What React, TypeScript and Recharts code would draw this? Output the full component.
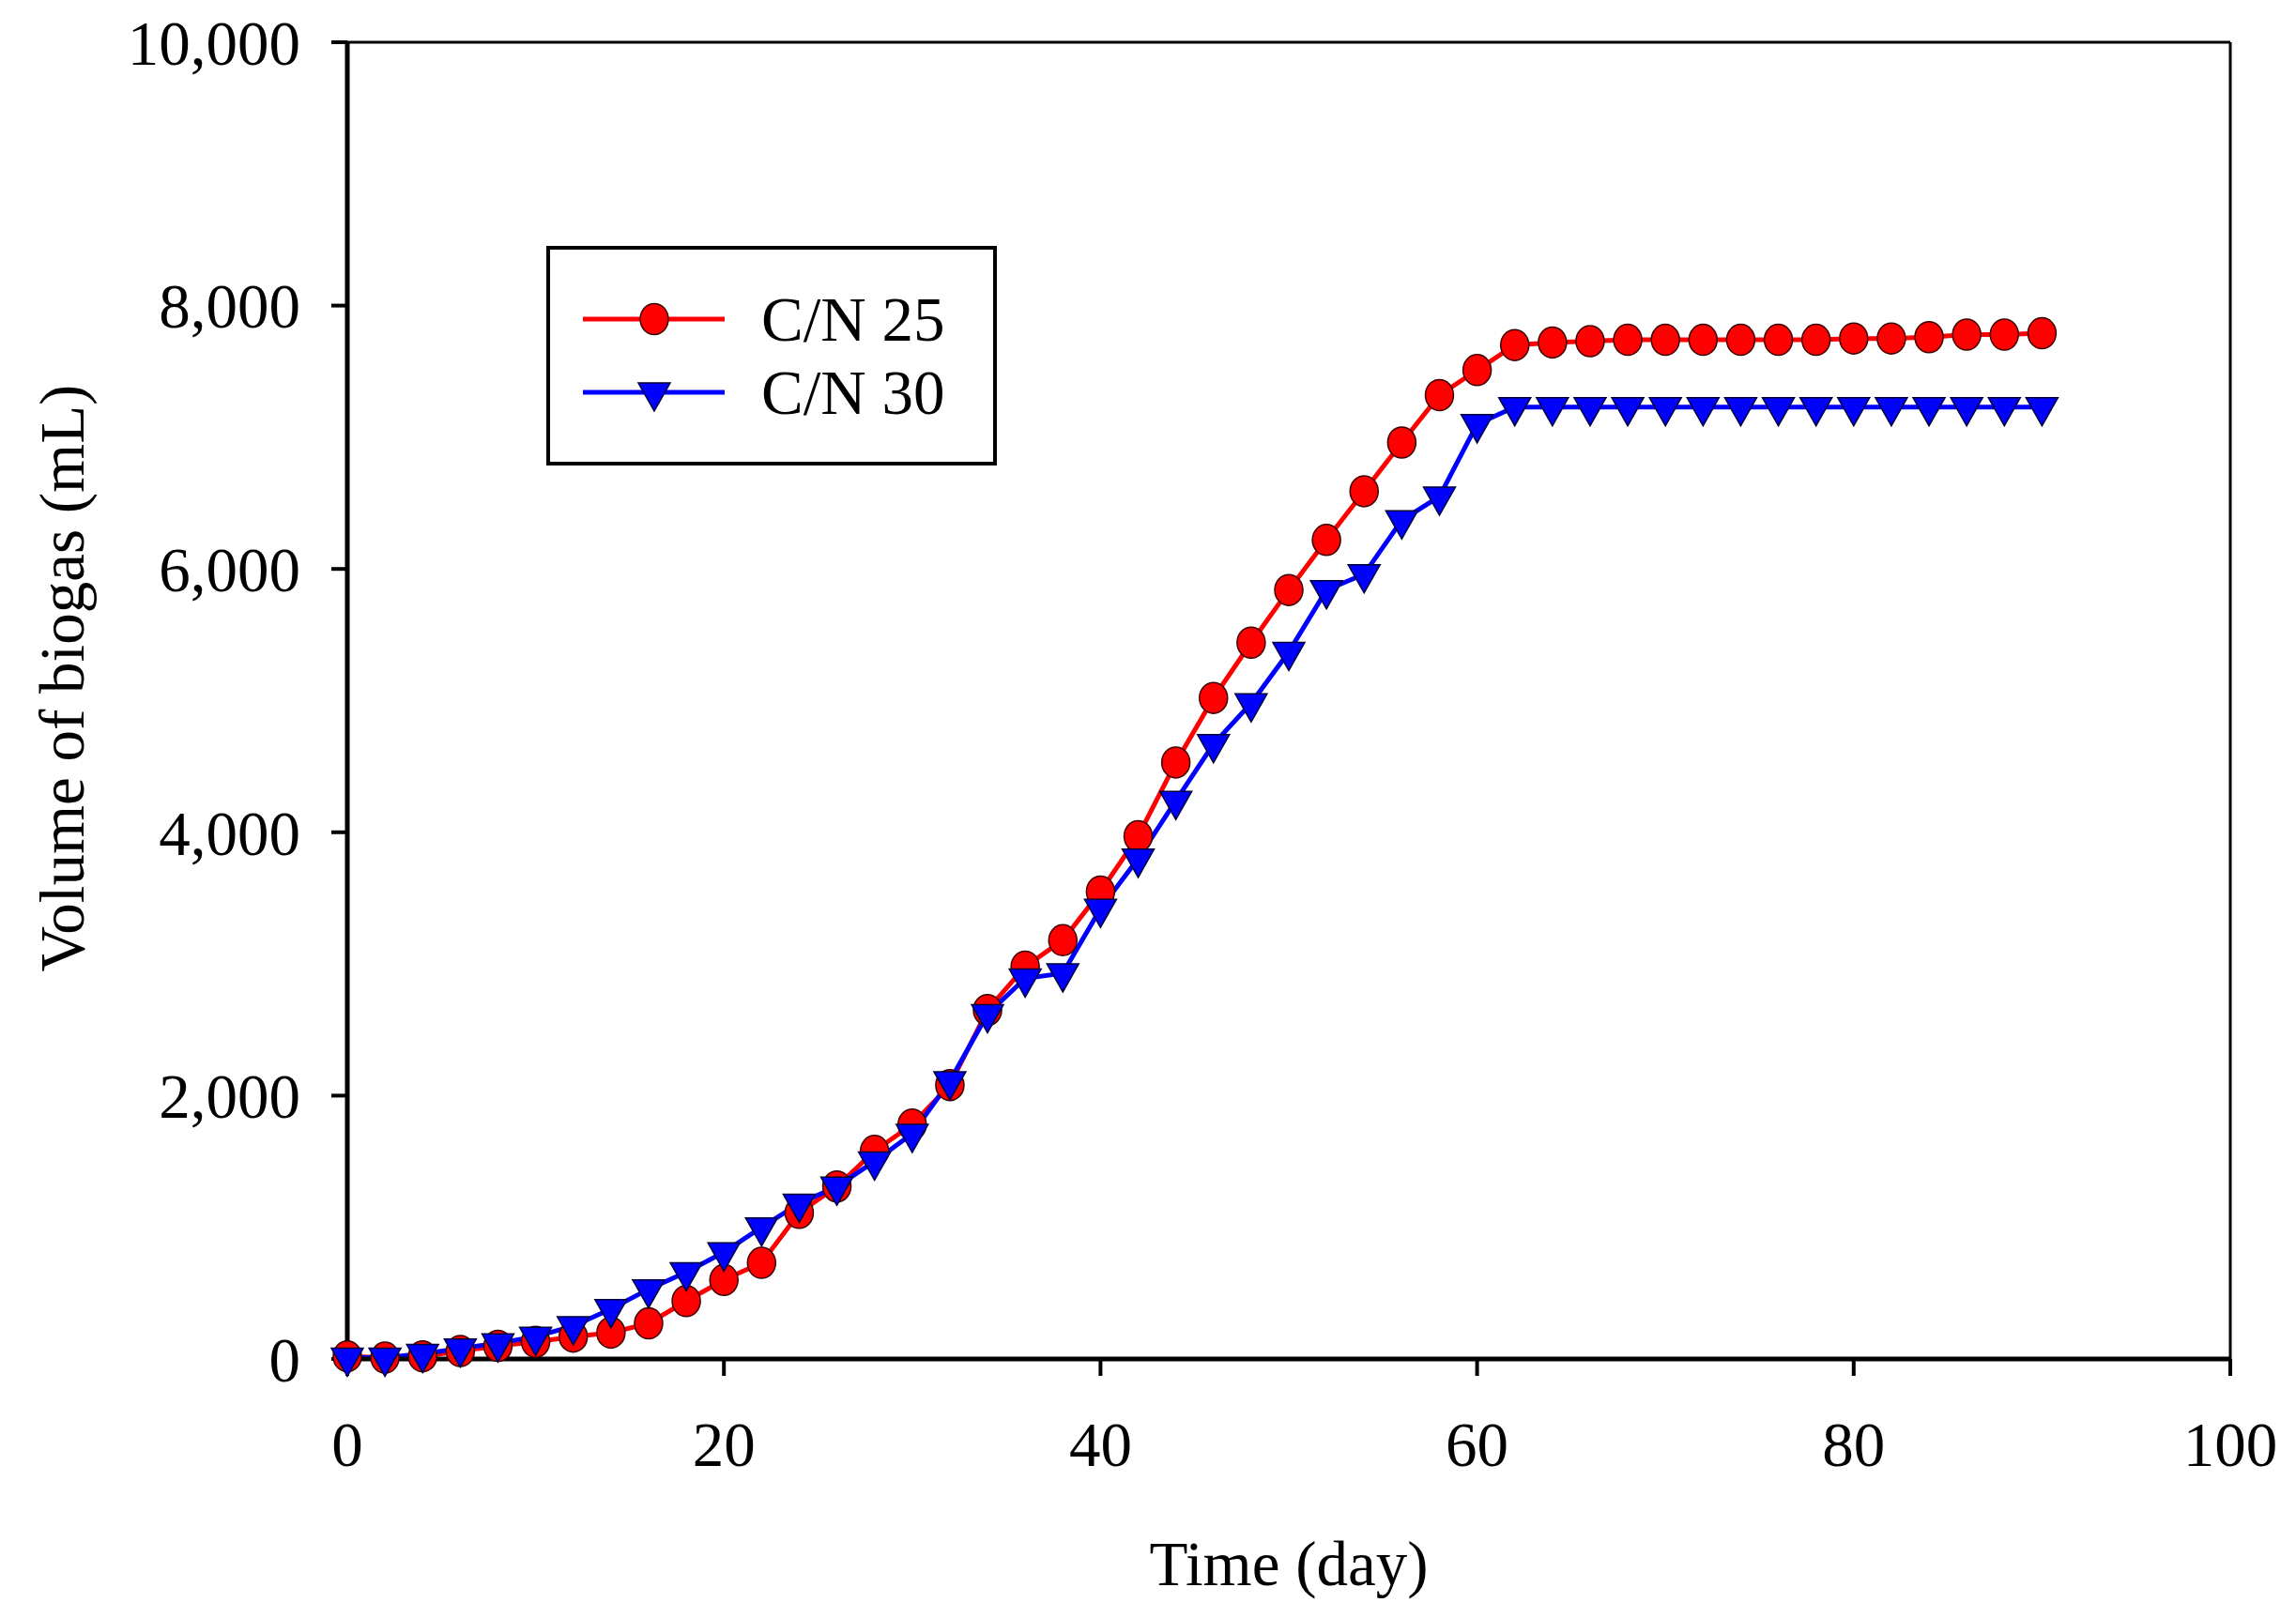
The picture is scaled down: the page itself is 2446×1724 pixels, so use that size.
import React from 'react';
import { LineChart, Line, XAxis, YAxis, ReferenceLine, Legend } from 'recharts';

const days = [0,2,4,6,8,10,12,14,16,18,20,22,24,26,28,30,32,34,36,38,40,42,44,46,48,50,52,54,56,58,60,62,64,66,68,70,72,74,76,78,80,82,84,86,88,90];
const cn25 = [20,10,20,60,100,130,170,200,270,440,600,730,1110,1310,1580,1780,2080,2650,2980,3180,3550,3970,4530,5020,5440,5840,6220,6590,6960,7320,7510,7700,7720,7730,7740,7740,7740,7740,7740,7740,7750,7750,7760,7780,7780,7790];
const cn30 = [10,10,40,80,120,170,250,380,530,660,810,1000,1180,1310,1500,1710,2110,2620,2890,2930,3420,3800,4240,4670,4980,5370,5840,5960,6370,6550,7100,7230,7230,7230,7230,7230,7230,7230,7230,7230,7230,7230,7230,7230,7230,7230];
const xTicks = [0,20,40,60,80,100];
const yTicks = [0,2000,4000,6000,8000,10000];
const seriesNames = ['C/N 25', 'C/N 30'];

const data = days.map((d, i) => ({ day: d, cn25: cn25[i], cn30: cn30[i] }));

const FONT = '"Liberation Serif", "Times New Roman", serif';
const FS = 67;

const CircleDot = (props: any) => {
  const { cx, cy } = props;
  if (cx == null || cy == null) return null;
  return <ellipse cx={cx} cy={cy} rx={15} ry={16.5} fill="#ff0000" stroke="#3a0000" strokeWidth={1.5} />;
};

const TriDot = (props: any) => {
  const { cx, cy } = props;
  if (cx == null || cy == null) return null;
  const pts = `${cx - 17},${cy - 10} ${cx + 17},${cy - 10} ${cx},${cy + 20}`;
  return <polygon points={pts} fill="#0000ff" stroke="#00003a" strokeWidth={1.5} />;
};

const LegendBox = () => (
  <svg width={480} height={234} style={{ display: 'block', overflow: 'visible' }}>
    <rect x={2} y={2} width={476} height={230} fill="#fff" stroke="#000" strokeWidth={4} />
    <line x1={39} y1={78} x2={190} y2={78} stroke="#ff0000" strokeWidth={5} />
    <CircleDot cx={115} cy={78} />
    <text x={229} y={78} dominantBaseline="central" fontFamily={FONT} fontSize={FS} fill="#000">{seriesNames[0]}</text>
    <line x1={39} y1={156} x2={190} y2={156} stroke="#0000ff" strokeWidth={5} />
    <TriDot cx={115} cy={156} />
    <text x={229} y={156} dominantBaseline="central" fontFamily={FONT} fontSize={FS} fill="#000">{seriesNames[1]}</text>
  </svg>
);

export default function App() {
  return (
    <div style={{ position: 'absolute', left: 0, top: 0, width: 2446, height: 1724, background: '#fff' }}>
      <LineChart width={2446} height={1724} data={data} margin={{ top: 45, right: 70, left: 70, bottom: 76 }}>
        <XAxis
          dataKey="day"
          type="number"
          domain={[0, 100]}
          ticks={xTicks}
          height={200}
          axisLine={{ stroke: '#000', strokeWidth: 5 }}
          tickLine={{ stroke: '#000', strokeWidth: 4 }}
          tickSize={18}
          tickMargin={48}
          tick={{ fill: '#000', fontFamily: FONT, fontSize: FS }}
          label={{
            content: (p: any) => {
              const vb = p.viewBox || {};
              return (
                <text x={vb.x + vb.width / 2} y={vb.y + 218} textAnchor="middle" dominantBaseline="central" fontFamily={FONT} fontSize={FS} fill="#000">Time (day)</text>
              );
            },
          }}
        />
        <YAxis
          type="number"
          domain={[0, 10000]}
          ticks={yTicks}
          width={300}
          axisLine={{ stroke: '#000', strokeWidth: 5 }}
          tickLine={{ stroke: '#000', strokeWidth: 4 }}
          tickSize={17}
          tickMargin={33}
          tickFormatter={(v: number) => v.toLocaleString('en-US')}
          tick={{ fill: '#000', fontFamily: FONT, fontSize: FS }}
          label={{
            content: (p: any) => {
              const vb = p.viewBox || {};
              const cx = vb.x + vb.width - 304;
              const cy = vb.y + vb.height / 2 - 24;
              return (
                <text x={cx} y={cy} transform={`rotate(-90, ${cx}, ${cy})`} textAnchor="middle" dominantBaseline="central" fontFamily={FONT} fontSize={FS} fill="#000">Volume of biogas (mL)</text>
              );
            },
          }}
        />
        <ReferenceLine y={10000} stroke="#000" strokeWidth={3} ifOverflow="visible" />
        <ReferenceLine x={100} stroke="#000" strokeWidth={3} ifOverflow="visible" />
        <Legend
          layout="vertical"
          align="center"
          verticalAlign="middle"
          wrapperStyle={{ left: 582, top: 262, width: 480, height: 234 }}
          content={() => <LegendBox />}
        />
        <Line
          type="linear"
          dataKey="cn25"
          name={seriesNames[0]}
          stroke="#ff0000"
          strokeWidth={5}
          dot={<CircleDot />}
          activeDot={false}
          isAnimationActive={false}
        />
        <Line
          type="linear"
          dataKey="cn30"
          name={seriesNames[1]}
          stroke="#0000ff"
          strokeWidth={5}
          dot={<TriDot />}
          activeDot={false}
          isAnimationActive={false}
        />
      </LineChart>
    </div>
  );
}
